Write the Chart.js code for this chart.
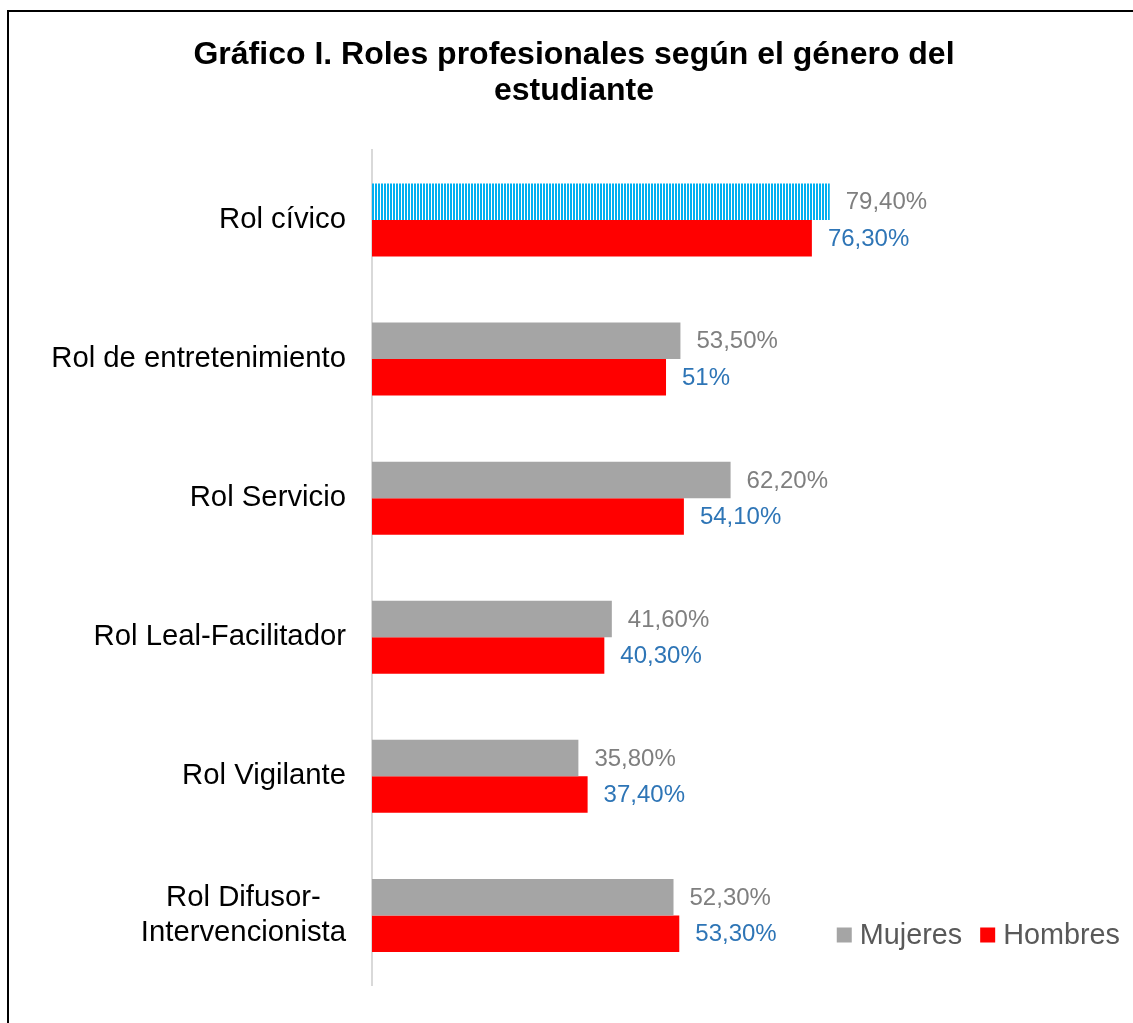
<!DOCTYPE html>
<html>
<head>
<meta charset="utf-8">
<script src="https://cdn.jsdelivr.net/npm/chart.js@4"></script>
<style>
  html, body { margin: 0; padding: 0; background: #fff; overflow: hidden; }
  #wrap { position: relative; width: 1133px; height: 1023px; }
  #frame { position: absolute; left: 7px; top: 10px; right: -10px; bottom: -10px;
           border-top: 2px solid #000; border-left: 2px solid #000; pointer-events: none; }
  canvas { position: absolute; left: 0; top: 0; }
</style>
</head>
<body>
<div id="wrap">
  <canvas id="rolesChart" width="1133" height="1023"></canvas>
  <div id="frame"></div>
</div>
<script>
const categories = ["Rol cívico", "Rol de entretenimiento", "Rol Servicio", "Rol Leal-Facilitador", "Rol Vigilante", ["Rol Difusor-", "Intervencionista"]];
const mujeres = [79.4, 53.5, 62.2, 41.6, 35.8, 52.3];
const hombres = [76.3, 51, 54.1, 40.3, 37.4, 53.3];
const mujeresLabels = ["79,40%", "53,50%", "62,20%", "41,60%", "35,80%", "52,30%"];
const hombresLabels = ["76,30%", "51%", "54,10%", "40,30%", "37,40%", "53,30%"];

const FONT = "'Liberation Sans', Arial, sans-serif";
const GRAY = "#a5a5a5";
const RED = "#ff0000";

// striped fill for the first bar
function stripes() {
  const c = document.createElement("canvas");
  c.width = 3; c.height = 4;
  const g = c.getContext("2d");
  g.fillStyle = "#ffffff";
  g.fillRect(0, 0, 3, 4);
  g.fillStyle = "#00b0f0";
  g.fillRect(0, 0, 2, 4);
  return g.createPattern(c, "repeat");
}

const mujeresColors = mujeres.map((v, i) => i === 0 ? stripes() : GRAY);

// category names: block right-aligned to the axis, lines centred within the block
const categoryLabels = {
  id: "categoryLabels",
  afterDraw(chart) {
    const ctx = chart.ctx;
    const scale = chart.scales.y;
    const lh = 34.6;
    ctx.save();
    ctx.font = "29.3px " + FONT;
    ctx.fillStyle = "#000";
    ctx.textAlign = "center";
    ctx.textBaseline = "middle";
    chart.data.labels.forEach((lab, i) => {
      const lines = Array.isArray(lab) ? lab : [lab];
      const w = Math.max(...lines.map(l => ctx.measureText(l).width));
      const cx = scale.right - 26 - w / 2;
      const cy = scale.getPixelForTick(i);
      lines.forEach((l, j) => {
        ctx.fillText(l, cx, cy + (j - (lines.length - 1) / 2) * lh);
      });
    });
    ctx.restore();
  }
};

// value labels at the end of each bar
const valueLabels = {
  id: "valueLabels",
  afterDatasetsDraw(chart) {
    const ctx = chart.ctx;
    ctx.save();
    ctx.font = "24px " + FONT;
    ctx.textAlign = "left";
    ctx.textBaseline = "middle";
    chart.data.datasets.forEach((ds, di) => {
      chart.getDatasetMeta(di).data.forEach((bar, i) => {
        ctx.fillStyle = ds.labelColor;
        ctx.fillText(ds.valueText[i], bar.x + 16, bar.y + 1);
      });
    });
    ctx.restore();
  }
};

// legend in the bottom right corner
const cornerLegend = {
  id: "cornerLegend",
  afterDraw(chart) {
    const ctx = chart.ctx;
    const area = chart.chartArea;
    ctx.save();
    ctx.font = "28.8px " + FONT;
    ctx.textBaseline = "middle";
    const items = chart.data.datasets.map(ds => ({ text: ds.label, color: ds.legendColor, w: ctx.measureText(ds.label).width }));
    const box = 15, gap = 8, between = 18;
    let total = 0;
    items.forEach((it, i) => { total += box + gap + it.w + (i ? between : 0); });
    let x = area.right - 13 - total;
    const y = area.bottom - 50;
    items.forEach(it => {
      ctx.fillStyle = it.color;
      ctx.fillRect(x, y - box / 2, box, box);
      x += box + gap;
      ctx.fillStyle = "#595959";
      ctx.fillText(it.text, x, y + 1);
      x += it.w + between;
    });
    ctx.restore();
  }
};

new Chart(document.getElementById("rolesChart"), {
  type: "bar",
  data: {
    labels: categories,
    datasets: [
      { label: "Mujeres", data: mujeres, backgroundColor: mujeresColors, legendColor: GRAY,
        labelColor: "#7f7f7f", valueText: mujeresLabels, categoryPercentage: 0.525, barPercentage: 1.0 },
      { label: "Hombres", data: hombres, backgroundColor: RED, legendColor: RED,
        labelColor: "#2e75b6", valueText: hombresLabels, categoryPercentage: 0.525, barPercentage: 1.0 }
    ]
  },
  options: {
    indexAxis: "y",
    responsive: false,
    animation: false,
    layout: { padding: { top: 0, left: 15, right: 0, bottom: 38 } },
    plugins: {
      legend: { display: false },
      tooltip: { enabled: false },
      title: {
        display: true,
        text: ["Gráfico I. Roles profesionales según el género del", "estudiante"],
        color: "#000",
        font: { family: FONT, size: 32, weight: "bold", lineHeight: 1.1 },
        padding: { top: 38, bottom: 42 }
      }
    },
    scales: {
      x: { display: false, min: 0, max: 132 },
      y: {
        grid: { display: false, drawTicks: false },
        border: { display: true, color: "#d9d9d9", width: 2 },
        ticks: { display: false },
        afterFit(scale) {
          scale.width = 357;
          scale.paddingTop = 0;
          scale.paddingBottom = 0;
        }
      }
    }
  },
  plugins: [valueLabels, categoryLabels, cornerLegend]
});
</script>
</body>
</html>
